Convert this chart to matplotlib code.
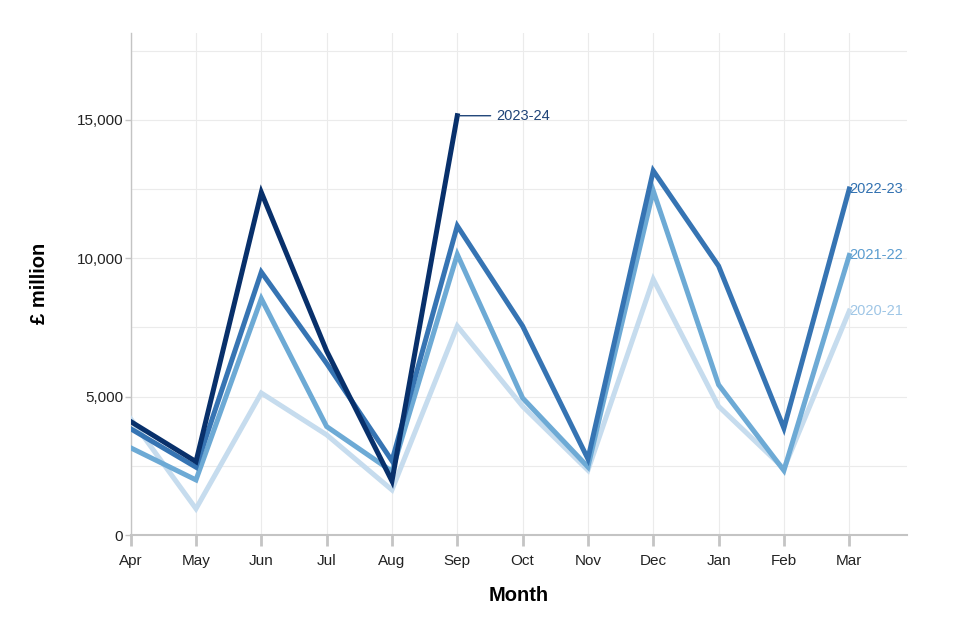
import matplotlib
matplotlib.use("Agg")
import matplotlib.pyplot as plt
from matplotlib.ticker import MultipleLocator, FuncFormatter

plt.rcParams["font.family"] = ["Liberation Sans", "DejaVu Sans"]

months = ["Apr", "May", "Jun", "Jul", "Aug", "Sep", "Oct", "Nov", "Dec", "Jan", "Feb", "Mar"]

# £ million per month, financial years
fy_2020_21 = [4200, 950, 5130, 3620, 1630, 7550, 4650, 2340, 9240, 4650, 2400, 8090]
fy_2021_22 = [3150, 1990, 8540, 3920, 2300, 10140, 4950, 2460, 12440, 5430, 2330, 10100]
fy_2022_23 = [3840, 2450, 9500, 6200, 2680, 11170, 7550, 2750, 13160, 9720, 3860, 12500]
fy_2023_24 = [4100, 2650, 12380, 6650, 1950, 15150]

series = [
    ("2020-21", fy_2020_21, "#c6dcee", "#9fc6e6"),
    ("2021-22", fy_2021_22, "#6daad5", "#5a9ccf"),
    ("2022-23", fy_2022_23, "#3674b3", "#3070b0"),
    ("2023-24", fy_2023_24, "#08306b", "#1f4478"),
]

fig = plt.figure(figsize=(9.6, 6.36), dpi=100)
ax = fig.add_axes([0.1361, 0.1588, 0.8084, 0.7898])

for name, vals, col, tcol in series:
    x = list(range(len(vals)))
    ax.plot(x, vals, color=col, lw=3.6, solid_joinstyle="miter", zorder=3)
    if name == "2023-24":
        ax.annotate(name, xy=(x[-1], vals[-1]), xytext=(28, 0),
                    textcoords="offset points", va="center", ha="left",
                    fontsize=10.5, color=tcol,
                    arrowprops=dict(arrowstyle="-", color=tcol, lw=1,
                                    shrinkA=2, shrinkB=1))
    else:
        ax.annotate(name, xy=(x[-1], vals[-1]), xytext=(0, 0),
                    textcoords="offset points", va="center", ha="left",
                    fontsize=10.5, color=tcol, zorder=4)

ax.set_xlim(0, 11.88)
ax.set_ylim(0, 18150)
ax.set_xticks(range(len(months)))
ax.set_xticklabels(months)
ax.yaxis.set_major_locator(MultipleLocator(5000))
ax.yaxis.set_minor_locator(MultipleLocator(2500))
ax.yaxis.set_major_formatter(FuncFormatter(lambda v, p: f"{int(v):,}"))

ax.grid(True, which="both", color="#ebebeb", lw=0.8, zorder=0)
ax.set_axisbelow(True)

for s in ["top", "right"]:
    ax.spines[s].set_visible(False)
ax.spines["left"].set_color("#c4c4c4")
ax.spines["left"].set_linewidth(1)
ax.spines["bottom"].set_color("#c4c4c4")
ax.spines["bottom"].set_linewidth(1.5)

ax.tick_params(axis="x", length=8, width=2, color="#c4c4c4", pad=6,
               labelsize=11, labelcolor="#222222")
ax.tick_params(axis="y", which="major", length=4, width=1, color="#c4c4c4",
               pad=1.5, labelsize=11, labelcolor="#222222")
ax.tick_params(axis="y", which="minor", length=0)

ax.set_ylabel("£ million", fontsize=14.5, fontweight="bold", va="center")
ax.yaxis.set_label_coords(-0.117, 0.5)
ax.set_xlabel("Month", fontsize=14.5, fontweight="bold", va="center")
ax.xaxis.set_label_coords(0.5, -0.121)

fig.savefig("out.png", dpi=100)
